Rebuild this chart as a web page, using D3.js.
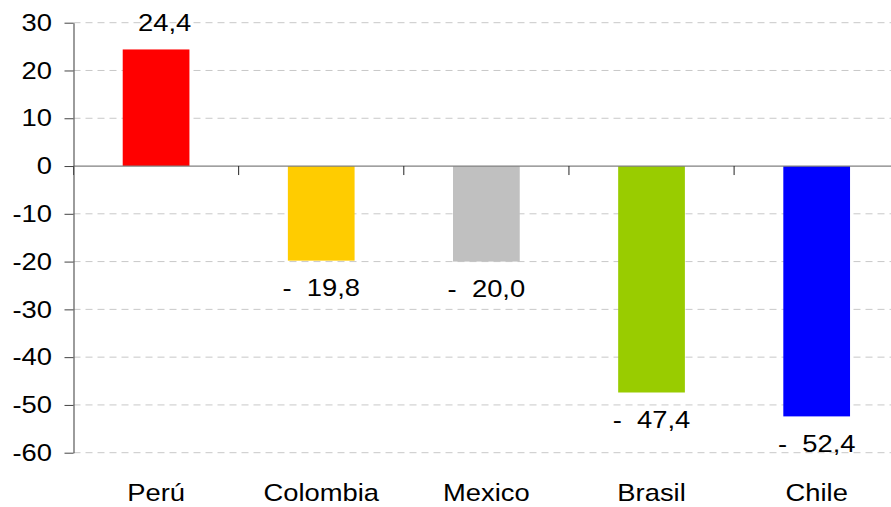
<!DOCTYPE html>
<html><head><meta charset="utf-8">
<script src="https://cdn.jsdelivr.net/npm/d3@7"></script>
<style>
html,body{margin:0;padding:0;background:#fff;}
svg{display:block;font-family:"Liberation Sans",Arial,sans-serif;}
text{white-space:pre;}
</style></head>
<body><svg id="c" width="891" height="507"></svg>
<script>
const categories = ["Perú","Colombia","Mexico","Brasil","Chile"];
const values = [24.4, -19.8, -20.0, -47.4, -52.4];
const colors = ["#ff0000","#ffcc00","#c0c0c0","#99cc00","#0000ff"];
const yTicks = [30,20,10,0,-10,-20,-30,-40,-50,-60];

(function(){
const svg = d3.select("#c");
const padL = 73.5, padT = 22.7, padB = 452.7, step = 165.15;
const FS = 24, SX = 1.14;

const x = d3.scaleBand().domain(categories).range([padL, padL + step*categories.length]).padding(0);
const y = d3.scaleLinear().domain([-60, 30]).range([padB, padT]);
const barW = x.bandwidth()*0.404;

function fmt(v){
  const s = Math.abs(v).toFixed(1).replace(".", ",");
  return v < 0 ? "-  " + s : s;
}

// gridlines
svg.append("g").selectAll("line").data(yTicks.filter(t=>t!==0)).join("line")
  .attr("x1", padL).attr("x2", 891).attr("y1", d=>y(d)).attr("y2", d=>y(d))
  .attr("stroke", "#c8c8c8").attr("stroke-width", 1).attr("stroke-dasharray", "7,5");

// bars
svg.append("g").selectAll("rect").data(values).join("rect")
  .attr("x", (d,i)=>x(categories[i]) + x.bandwidth()/2 - barW/2)
  .attr("width", barW)
  .attr("y", d=>y(Math.max(0,d)))
  .attr("height", d=>Math.abs(y(d)-y(0)))
  .attr("fill", (d,i)=>colors[i]);

// zero line
svg.append("line").attr("x1", padL).attr("x2", 891).attr("y1", y(0)).attr("y2", y(0))
  .attr("stroke", "#808080").attr("stroke-width", 1.3);
// x ticks at boundaries
const bounds = categories.map(c=>x(c));
svg.append("g").selectAll("line").data(bounds).join("line")
  .attr("x1", d=>d).attr("x2", d=>d).attr("y1", y(0)).attr("y2", y(0)+9)
  .attr("stroke", "#222").attr("stroke-width", 1);

// y axis
const yAxis = svg.append("g").attr("transform", `translate(${padL},0)`)
  .call(d3.axisLeft(y).tickValues(yTicks).tickSize(9).tickSizeOuter(0).tickFormat(d=>d));
yAxis.select(".domain").attr("stroke", "#666").attr("stroke-width", 1.3);
yAxis.selectAll(".tick line").attr("stroke", "#444");
yAxis.selectAll(".tick text").remove();
svg.append("g").selectAll("text").data(yTicks).join("text")
  .attr("transform", d=>`translate(52,${y(d)+8.2}) scale(${SX},1)`)
  .attr("text-anchor", "end").attr("font-size", FS).attr("fill", "#000")
  .text(d=>d);

// value labels
svg.append("g").selectAll("text").data(values).join("text")
  .attr("transform", (d,i)=>{
    const cx = x(categories[i]) + x.bandwidth()/2 + (d >= 0 ? 8.5 : 0);
    const by = d >= 0 ? y(d) - 18 : y(d) + 35.5;
    return `translate(${cx},${by}) scale(${SX},1)`;
  })
  .attr("text-anchor", "middle").attr("font-size", FS).attr("fill", "#000")
  .text(d=>fmt(d));

// category labels
svg.append("g").selectAll("text").data(categories).join("text")
  .attr("transform", d=>`translate(${x(d)+x.bandwidth()/2},501) scale(${SX},1)`)
  .attr("text-anchor", "middle").attr("font-size", FS).attr("fill", "#000")
  .text(d=>d);
})();
</script></body></html>
